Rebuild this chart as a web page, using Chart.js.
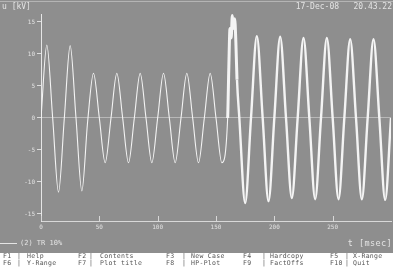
<!DOCTYPE html>
<html>
<head>
<meta charset="utf-8">
<script src="https://cdn.jsdelivr.net/npm/chart.js@4.4.0/dist/chart.umd.min.js"></script>
<style>
  body { margin:0; background:#8e8e8e; }
  #wrap { position:relative; width:393px; height:267px; overflow:hidden; background:#8e8e8e; }
  #c { position:absolute; left:0; top:0; }
  .txt { position:absolute; font-family:"DejaVu Sans Mono", monospace; color:#e4e4e4; white-space:pre; }
  #topline { position:absolute; left:0; top:1px; width:393px; height:1px; background:#b4b4b4; }
  #fkeys { position:absolute; left:0; top:253px; width:393px; height:14px; background:#fff; }
  #fkeys span { position:absolute; font-family:"DejaVu Sans Mono", monospace; font-size:6.5px; line-height:7px; color:#555; white-space:pre; letter-spacing:0.3px; }
</style>
</head>
<body>
<div id="wrap">
  <canvas id="c" width="393" height="267"></canvas>
  <div id="topline"></div>
  <div class="txt" style="left:2px;top:2px;font-size:8px;">u [kV]</div>
  <div class="txt" style="right:1px;top:2px;font-size:8px;">17-Dec-08   20.43.22</div>
  <div style="position:absolute;left:0;top:243px;width:17px;height:1px;background:#e4e4e4;"></div>
  <div class="txt" style="left:20px;top:239px;font-size:7px;">(2) TR 10%</div>
  <div class="txt" style="right:1px;top:238px;font-size:8.5px;letter-spacing:0.4px;">t [msec]</div>
  <div id="fkeys"></div>
</div>
<script>
// ---- data ----
const timeMs = [0,5,10,15,20,25,30,35,40,45,50,55,60,65,70,75,80,85,90,95,100,105,110,115,120,125,130,135,140,145,150,155,160,
  161,162,163,164,165,166,167,168,
  170,175,180,185,190,195,200,205,210,215,220,225,230,235,240,245,250,255,260,265,270,275,280,285,290,295,300];
const voltage = [0,11.4,0,-11.6,0,11.3,0,-11.4,-0.5,7.0,0,-7.0,0,7.0,0,-7.0,0,7.0,0,-7.0,0,7.0,0,-7.0,0,7.0,0,-7.0,0,7.0,0,-7.0,0,
  8,14,12.5,16,14,15.5,12,6,
  0,-13.3,0,12.8,0,-13.0,0,12.7,0,-12.5,0,12.5,0,-12.7,0,12.5,0,-12.7,0,12.3,0,-12.7,0,12.3,0,-12.8,0];
const xTicks = [0,50,100,150,200,250];
const yTicks = [-15,-10,-5,0,5,10,15];

const keysRow1 = [['F1','Help'],['F2','Contents'],['F3','New Case'],['F4','Hardcopy'],['F5','X-Range']];
const keysRow2 = [['F6','Y-Range'],['F7','Plot title'],['F8','HP-Plot'],['F9','FactOffs'],['F10','Quit']];

// function key bar
const fk = document.getElementById('fkeys');
const colKey = [3,78,166,243,330], colBar = [17,89,182,262,345], colLbl = [27,100,191,270,353];
[keysRow1, keysRow2].forEach((row, r) => {
  row.forEach((k, i) => {
    [[colKey[i], k[0]], [colBar[i], '|'], [colLbl[i], k[1]]].forEach(([x, s]) => {
      const sp = document.createElement('span');
      sp.style.left = x + 'px';
      sp.style.top = (r * 7) + 'px';
      sp.textContent = s;
      fk.appendChild(sp);
    });
  });
});

const tickFont = { family: 'DejaVu Sans Mono', size: 6 };
const labelColor = '#e2e2e2';

// small upward tick marks on the time axis
const innerTicks = {
  id: 'innerTicks',
  afterDraw(chart) {
    const { ctx, chartArea, scales: { x } } = chart;
    ctx.save();
    ctx.strokeStyle = '#d8d8d8';
    ctx.lineWidth = 1;
    x.ticks.forEach(t => {
      const px = Math.round(x.getPixelForValue(t.value)) + 0.5;
      ctx.beginPath();
      ctx.moveTo(px, chartArea.bottom);
      ctx.lineTo(px, chartArea.bottom - 5);
      ctx.stroke();
    });
    ctx.restore();
  }
};

new Chart(document.getElementById('c'), {
  type: 'line',
  data: {
    datasets: [{
      data: timeMs.map((t, i) => ({ x: t, y: voltage[i] })),
      borderColor: '#f4f4f4',
      borderWidth: 1.1,
      pointRadius: 0,
      cubicInterpolationMode: 'monotone',
      segment: {
        borderWidth: c => {
          const t = c.p0.parsed.x;
          if (t >= 160 && t < 168) return 3;
          return t >= 160 ? 2.4 : 1.1;
        }
      }
    }]
  },
  options: {
    responsive: false,
    animation: false,
    devicePixelRatio: 1,
    layout: { padding: { left: 0, top: 14, right: 2, bottom: 34 } },
    plugins: { legend: { display: false }, tooltip: { enabled: false } },
    scales: {
      x: {
        type: 'linear',
        min: 0, max: 300,
        afterBuildTicks: s => { s.ticks = xTicks.map(v => ({ value: v })); },
        afterFit: s => { s.height = 12; },
        ticks: { color: labelColor, font: tickFont, padding: 3, maxRotation: 0, autoSkip: false },
        grid: { color: 'transparent', drawTicks: false },
        border: { color: '#d8d8d8', width: 1 }
      },
      y: {
        min: -16.1, max: 16.25,
        afterBuildTicks: s => { s.ticks = yTicks.map(v => ({ value: v })); },
        afterFit: s => { s.width = 41; },
        ticks: { color: labelColor, font: tickFont, padding: 2 },
        grid: {
          color: c => (c.tick && c.tick.value === 0) ? '#b8b8b8' : 'transparent',
          tickColor: '#dcdcdc',
          tickLength: 4
        },
        border: { color: '#e6e6e6', width: 1 }
      }
    }
  },
  plugins: [innerTicks]
});
</script>
</body>
</html>
